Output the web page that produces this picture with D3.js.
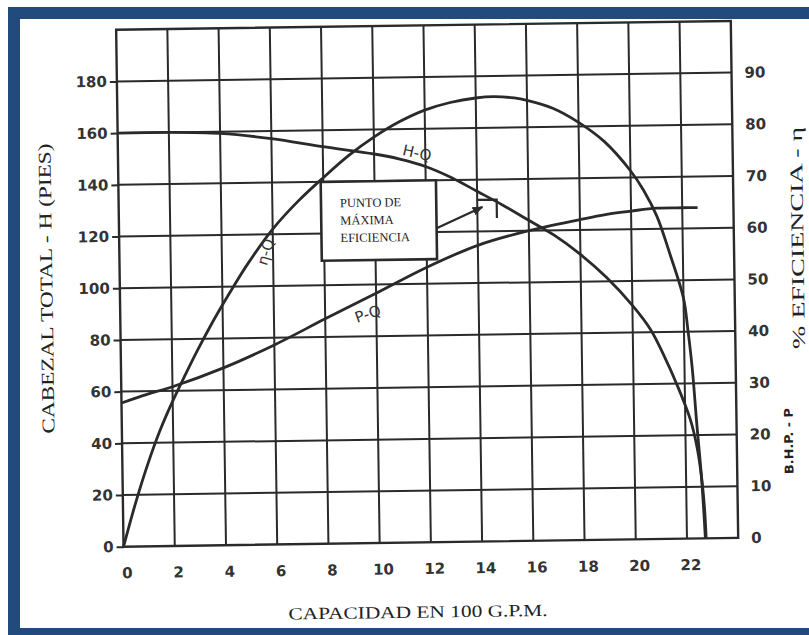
<!DOCTYPE html>
<html>
<head>
<meta charset="utf-8">
<script src="https://cdn.jsdelivr.net/npm/d3@7"></script>
<style>
  html, body { margin: 0; padding: 0; background: #ffffff; }
  svg { display: block; }
</style>
</head>
<body>
<svg id="chart" width="809" height="635"></svg>
<script>
// ---------- DATA ----------
const capTicks = [0, 2, 4, 6, 8, 10, 12, 14, 16, 18, 20, 22];
const headTicks = [0, 20, 40, 60, 80, 100, 120, 140, 160, 180];
const effTicks = [0, 10, 20, 30, 40, 50, 60, 70, 80, 90];

// H-Q curve: capacity (100 GPM) vs total head (ft)
const hqQ = [0, 2, 4, 6, 8, 10, 11, 12, 13, 14, 15, 16, 17, 18, 19, 20, 20.7, 21.2, 21.7, 22.2, 22.45, 22.6, 22.7, 22.75];
const hqH = [160, 160, 159.3, 157, 153.6, 150.5, 148.4, 145.4, 141, 135.5, 130, 124, 118, 110.5, 101.5, 90.5, 81, 71, 59.5, 46, 35, 24, 12, 0];

// eta-Q curve: capacity vs % efficiency
const etaQ = [0, 0.5, 1, 1.5, 2, 2.5, 3, 3.5, 4, 4.5, 5, 6, 7, 8, 9, 10, 11, 12, 13, 14, 14.7, 15.5, 16, 17, 18, 19, 20, 20.5, 21, 21.5, 22, 22.15, 22.3, 22.45, 22.6, 22.72];
const etaV = [0, 8.5, 16, 22.5, 28, 33, 37.8, 42.3, 46.5, 50.5, 54.3, 61, 66.3, 70.8, 75, 78.5, 81.4, 83.6, 85.0, 85.8, 86, 85.7, 85.2, 83.6, 80.8, 77, 71.3, 67.5, 62.5, 55, 46.5, 40.5, 33, 22, 12, 0];

// P-Q curve: capacity vs B.H.P. (read on the right-hand scale)
const pQ = [0, 1, 2, 4, 6, 8, 10, 12, 14, 16, 18, 19, 20, 21, 22, 22.6];
const pV = [27.8, 29.4, 30.8, 34.3, 38.6, 43.5, 48.3, 53.2, 57.3, 60, 62, 62.9, 63.5, 64, 64, 64];

// annotation (data units: capacity, head)
const boxText = ["PUNTO DE", "MÁXIMA", "EFICIENCIA"];
const boxQ = [7.9, 12.4];
const boxH = [109.5, 140];
const arrowQ = [12.4, 14.2];
const arrowH = [121.4, 129.4];
const markQ = [13.98, 14.76, 14.76];
const markH = [132.2, 132.2, 125.1];

// ---------- DRAW ----------
const svg = d3.select("#chart");
const ink = "#2a2a2a";
const blue = "#214b7d";

// scanned page frame (blue border)
svg.append("rect").attr("x", 8).attr("y", 7).attr("width", 801).attr("height", 12).attr("fill", blue);
svg.append("rect").attr("x", 8).attr("y", 7).attr("width", 12).attr("height", 628).attr("fill", blue);
svg.append("rect").attr("x", 8).attr("y", 628).attr("width", 801).attr("height", 7).attr("fill", blue);

// whole scan is slightly rotated
const g = svg.append("g").attr("transform", "rotate(-0.82,427,283)");

const x = d3.scaleLinear().domain([0, 24]).range([119.8, 734.5]);
const yH = d3.scaleLinear().domain([0, 200]).range([542.3, 25.3]);
const yE = d3.scaleLinear().domain([0, 100]).range([542.3, 25.3]);

// grid
const grid = g.append("g").attr("stroke", ink).attr("stroke-width", 2);
grid.selectAll("line.v").data(d3.range(2, 24, 2)).join("line")
  .attr("x1", d => x(d)).attr("x2", d => x(d))
  .attr("y1", yH(200)).attr("y2", yH(0));
grid.selectAll("line.h").data(d3.range(20, 200, 20)).join("line")
  .attr("x1", x(0)).attr("x2", x(24))
  .attr("y1", d => yH(d)).attr("y2", d => yH(d));
g.append("rect")
  .attr("x", x(0)).attr("y", yH(200))
  .attr("width", x(24) - x(0)).attr("height", yH(0) - yH(200))
  .attr("fill", "none").attr("stroke", ink).attr("stroke-width", 2.4);

// axes
const tickFont = (sel) => sel.selectAll("text")
  .attr("font-family", "DejaVu Sans, sans-serif")
  .attr("font-weight", "bold")
  .attr("font-size", 15)
  .attr("fill", "#333");

const axL = g.append("g").attr("transform", `translate(${x(0)},0)`)
  .call(d3.axisLeft(yH).tickValues(headTicks).tickSize(7).tickPadding(3).tickFormat(d3.format("d")));
axL.select(".domain").remove();
axL.selectAll("line").attr("stroke", ink).attr("stroke-width", 2);
tickFont(axL);

const axB = g.append("g").attr("transform", `translate(0,${yH(0)})`)
  .call(d3.axisBottom(x).tickValues(capTicks).tickSize(0).tickPadding(21).tickFormat(d3.format("d")));
axB.select(".domain").remove();
axB.selectAll("text").attr("x", 3);
tickFont(axB);

const axR = g.append("g").attr("transform", `translate(${x(24)},0)`)
  .call(d3.axisRight(yE).tickValues(effTicks).tickSize(0).tickPadding(13).tickFormat(d3.format("d")));
axR.select(".domain").remove();
tickFont(axR);

// curves
const curve = d3.curveCatmullRom.alpha(0.5);
const lineH = d3.line().x(d => x(d[0])).y(d => yH(d[1])).curve(curve);
const lineE = d3.line().x(d => x(d[0])).y(d => yE(d[1])).curve(curve);

g.append("path").datum(hqQ.map((q, i) => [q, hqH[i]])).attr("d", lineH)
  .attr("fill", "none").attr("stroke", ink).attr("stroke-width", 2.8);
g.append("path").datum(etaQ.map((q, i) => [q, etaV[i]])).attr("d", lineE)
  .attr("fill", "none").attr("stroke", ink).attr("stroke-width", 2.8);
g.append("path").datum(pQ.map((q, i) => [q, pV[i]])).attr("d", lineE)
  .attr("fill", "none").attr("stroke", ink).attr("stroke-width", 2.8);

// curve labels
const hand = (t, q, v, scale, rot) => {
  const px = x(q), py = scale(v);
  g.append("text").attr("x", px).attr("y", py)
    .attr("transform", `rotate(${rot},${px},${py})`)
    .attr("text-anchor", "middle").attr("dominant-baseline", "central")
    .attr("font-family", "DejaVu Sans, sans-serif").attr("font-size", 15)
    .attr("fill", "#333").text(t);
};
hand("H-Q", 11.68, 150.6, yH, 14);
hand("P-Q", 9.67, 44.3, yE, -18);
hand("η-Q", 5.72, 56.6, yE, -72);

// annotation box
g.append("rect")
  .attr("x", x(boxQ[0])).attr("y", yH(boxH[1]))
  .attr("width", x(boxQ[1]) - x(boxQ[0])).attr("height", yH(boxH[0]) - yH(boxH[1]))
  .attr("fill", "#fff").attr("stroke", ink).attr("stroke-width", 2.6);
g.append("g").selectAll("text").data(boxText).join("text")
  .attr("x", x(boxQ[0]) + 19)
  .attr("y", (d, i) => yH(boxH[1]) + 25.5 + i * 17.5)
  .attr("font-family", "Liberation Serif, serif").attr("font-size", 12.5)
  .attr("fill", "#222").text(d => d);

// arrow + mark
const defs = svg.append("defs");
defs.append("marker").attr("id", "ah").attr("viewBox", "0 0 10 10")
  .attr("refX", 9).attr("refY", 5).attr("markerWidth", 5).attr("markerHeight", 5)
  .attr("orient", "auto")
  .append("path").attr("d", "M0,1 L10,5 L0,9 Z").attr("fill", ink);
g.append("line")
  .attr("x1", x(arrowQ[0])).attr("y1", yH(arrowH[0]))
  .attr("x2", x(arrowQ[1])).attr("y2", yH(arrowH[1]))
  .attr("stroke", ink).attr("stroke-width", 2.2).attr("marker-end", "url(#ah)");
g.append("path")
  .datum(markQ.map((q, i) => [q, markH[i]]))
  .attr("d", d3.line().x(d => x(d[0])).y(d => yH(d[1])))
  .attr("fill", "none").attr("stroke", ink).attr("stroke-width", 2.2);

// axis titles
const title = (t, cx, cy, rot, len, size, fam, weight) => {
  g.append("text").attr("x", cx).attr("y", cy)
    .attr("transform", rot ? `rotate(${rot},${cx},${cy})` : null)
    .attr("text-anchor", "middle").attr("dominant-baseline", "central")
    .attr("font-family", fam).attr("font-size", size)
    .attr("font-weight", weight || "normal")
    .attr("textLength", len).attr("lengthAdjust", "spacingAndGlyphs")
    .attr("fill", "#222").text(t);
};
title("CABEZAL TOTAL - H (PIES)", 46.4, 283.1, -90, 290, 18, "Liberation Serif, serif");
title("% EFICIENCIA - η", 798, 243.3, -90, 222, 18, "Liberation Serif, serif");
title("B.H.P. - P", 786.7, 446.2, -90, 66, 12, "DejaVu Sans, sans-serif", "bold");
title("CAPACIDAD EN 100 G.P.M.", 413.3, 612, 0, 259, 17, "Liberation Serif, serif");
</script>
</body>
</html>
